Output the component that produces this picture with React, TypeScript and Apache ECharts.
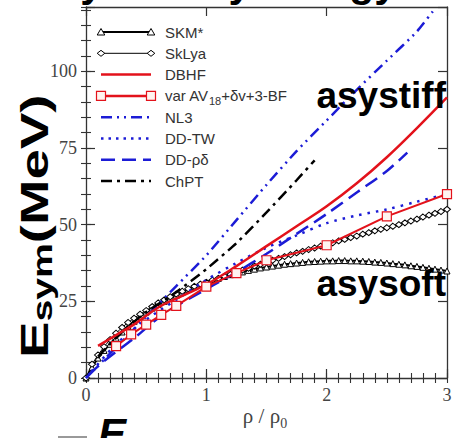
import React, { useEffect, useRef } from 'react';
import * as echarts from 'echarts';

// ---------- data ----------
const RHO_DENSE = [0, 0.05, 0.1, 0.15, 0.2, 0.25, 0.3, 0.35, 0.4, 0.45, 0.5, 0.55, 0.6, 0.65, 0.7, 0.75, 0.8, 0.85, 0.9, 0.95, 1, 1.05, 1.1, 1.15, 1.2, 1.25, 1.3, 1.35, 1.4, 1.45, 1.5, 1.55, 1.6, 1.65, 1.7, 1.75, 1.8, 1.85, 1.9, 1.95, 2, 2.05, 2.1, 2.15, 2.2, 2.25, 2.3, 2.35, 2.4, 2.45, 2.5, 2.55, 2.6, 2.65, 2.7, 2.75, 2.8, 2.85, 2.9, 2.95, 3];
const SKM = [0, 3.5, 6.5, 9, 11, 13, 15, 16.8, 18.5, 20, 21.5, 22.8, 24, 25, 26, 27, 28, 28.9, 29.8, 30.6, 31.3, 31.9, 32.5, 33.1, 33.7, 34.2, 34.6, 35.1, 35.5, 35.9, 36.2, 36.5, 36.8, 37.1, 37.3, 37.5, 37.7, 37.9, 38, 38.1, 38.2, 38.2, 38.3, 38.3, 38.2, 38.2, 38.1, 38, 37.8, 37.7, 37.5, 37.3, 37.1, 36.9, 36.6, 36.4, 36.1, 35.8, 35.5, 35.2, 34.9];
const SKLYA = [0, 4.5, 7.5, 10.2, 12.5, 14.6, 16.5, 18.1, 19.5, 20.8, 22, 23.3, 24.5, 25.5, 26.5, 27.4, 28.3, 29.1, 29.9, 30.6, 31.2, 31.9, 32.5, 33.2, 33.8, 34.5, 35.2, 35.8, 36.5, 37.1, 37.8, 38.4, 39, 39.6, 40.2, 40.8, 41.3, 41.9, 42.4, 43, 43.5, 44.1, 44.7, 45.2, 45.8, 46.3, 46.9, 47.4, 48, 48.5, 49, 49.5, 50, 50.6, 51.2, 51.8, 52.5, 53.1, 53.7, 54.3, 55];

const DBHF_RHO = [0.1, 0.25, 0.4, 0.6, 0.8, 1, 1.25, 1.5, 1.75, 2, 2.25, 2.5, 2.75, 3];
const DBHF = [10.5, 14, 17.5, 23, 26.8, 30.5, 36.5, 43, 49.5, 56, 63.5, 72, 81.5, 91.5];

const AV18_RHO = [0.25, 0.375, 0.5, 0.625, 0.75, 1, 1.25, 1.5, 2, 2.5, 3];
const AV18 = [10.4, 14.2, 17.4, 20.6, 23.5, 29.8, 34.2, 38.4, 43.3, 52.7, 60];

const NL3_RHO = [0, 0.1, 0.25, 0.5, 0.75, 1, 1.25, 1.5, 1.75, 2, 2.25, 2.5, 2.75, 2.9];
const NL3 = [0, 4, 10, 20, 30, 40, 51.5, 63, 74, 84, 94, 103.5, 113, 120.5];

const DDTW_RHO = [0, 0.25, 0.5, 0.75, 1, 1.25, 1.5, 1.75, 2, 2.25, 2.5, 2.75, 3];
const DDTW = [0, 11, 19, 25.5, 32, 37.5, 42.5, 46.5, 50.5, 53, 55, 57.5, 60];

const DDRD_RHO = [0.02, 0.15, 0.4, 0.65, 1, 1.25, 1.5, 1.75, 2, 2.25, 2.5, 2.67];
const DDRD = [1, 5.5, 13, 21, 29, 34.5, 40.5, 47, 53.5, 60.5, 67.5, 73.5];

const CHPT_RHO = [0.1, 0.3, 0.5, 0.75, 1, 1.25, 1.5, 1.75, 1.9];
const CHPT = [7, 15, 21.5, 28, 35.5, 44, 54, 64.5, 71];

const LEGEND_LABELS = ['SKM*', 'SkLya', 'DBHF', '{n|var AV}{s|18}{n|+δv+3-BF}', 'NL3', 'DD-TW', 'DD-ρδ', 'ChPT'];
const X_TICK_LABELS = ['0', '1', '2', '3'];
const Y_TICK_LABELS = ['0', '25', '50', '75', '100'];

const RED = '#e3121b';
const BLUE = '#1c1cd6';
const SANS = 'Liberation Sans, Arial, sans-serif';
const SERIF = 'Liberation Serif, Times New Roman, serif';

const pairs = (xs: number[], ys: number[]) => xs.map((x, i) => [x, ys[i]]);

function legendGraphics() {
  const els: any[] = [];
  const x1 = 101, x2 = 151;
  LEGEND_LABELS.forEach((label, i) => {
    const y = 32 + 21.3 * i;
    let stroke = '#000', lw = 2, dash: any = null;
    if (i === 1) lw = 1;
    if (i === 2 || i === 3) { stroke = RED; lw = 2.5; }
    if (i === 4) { stroke = BLUE; lw = 2.5; dash = [11, 5, 2, 5, 2, 5]; }
    if (i === 5) { stroke = BLUE; lw = 2.5; dash = [2.5, 5]; }
    if (i === 6) { stroke = BLUE; lw = 2.5; dash = [14, 7]; }
    if (i === 7) { stroke = '#000'; lw = 2.5; dash = [11, 5, 3, 5]; }
    els.push({ type: 'line', z: 50, shape: { x1, y1: y, x2, y2: y }, style: { stroke, lineWidth: lw, lineDash: dash } });
    [x1, x2].forEach((cx) => {
      if (i === 0) els.push({ type: 'polygon', z: 51, shape: { points: [[cx, y - 3.5], [cx - 3.8, y + 3], [cx + 3.8, y + 3]] }, style: { fill: '#fff', stroke: '#000', lineWidth: 1 } });
      if (i === 1) els.push({ type: 'polygon', z: 51, shape: { points: [[cx, y - 3], [cx + 3.8, y], [cx, y + 3], [cx - 3.8, y]] }, style: { fill: '#fff', stroke: '#000', lineWidth: 1 } });
      if (i === 3) els.push({ type: 'rect', z: 51, shape: { x: cx - 4.5, y: y - 4.5, width: 9, height: 9 }, style: { fill: '#fff4f0', stroke: RED, lineWidth: 1.2 } });
    });
    els.push({
      type: 'text', z: 52, x: 165, y,
      style: {
        text: label, fill: '#333', font: `15px ${SANS}`, align: 'left', verticalAlign: 'middle',
        rich: {
          n: { fontSize: 15, fontFamily: SANS, fill: '#333', lineHeight: 22 },
          s: { fontSize: 11, fontFamily: SANS, fill: '#333', lineHeight: 12, verticalAlign: 'bottom' },
        },
      },
    });
  });
  return els;
}

export default function App() {
  const ref = useRef<HTMLDivElement>(null);
  useEffect(() => {
    if (!ref.current) return;
    const chart = echarts.init(ref.current, undefined, { renderer: 'svg' });
    const axisColor = '#333';
    const xBase = { type: 'value', min: 0, max: 3, splitLine: { show: false } };
    const yBase = { type: 'value', min: 0, max: 121, splitLine: { show: false } };
    const majorX = (pos: string, labels: boolean) => ({
      ...xBase, position: pos, interval: 1,
      axisLine: { show: true, onZero: false, lineStyle: { color: axisColor, width: 1.3 } },
      axisTick: { show: true, inside: true, length: 9, lineStyle: { color: axisColor, width: 1.2 } },
      axisLabel: labels ? { show: true, margin: 8, color: '#444', fontFamily: SERIF, fontSize: 18, formatter: (v: number) => X_TICK_LABELS[Math.round(v)] ?? '' } : { show: false },
    });
    const minorX = (pos: string) => ({
      ...xBase, position: pos, interval: 0.1,
      axisLine: { show: false },
      axisTick: { show: true, inside: true, length: 5, lineStyle: { color: axisColor, width: 1.1 } },
      axisLabel: { show: false },
    });
    const majorY = (pos: string, labels: boolean) => ({
      ...yBase, position: pos, interval: 25,
      axisLine: { show: true, onZero: false, lineStyle: { color: axisColor, width: 1.3 } },
      axisTick: { show: true, inside: true, length: 9, lineStyle: { color: axisColor, width: 1.2 } },
      axisLabel: labels ? { show: true, margin: 9, color: '#444', fontFamily: SERIF, fontSize: 18, formatter: (v: number) => Y_TICK_LABELS[Math.round(v / 25)] ?? '' } : { show: false },
    });
    const minorY = (pos: string) => ({
      ...yBase, position: pos, interval: 5,
      axisLine: { show: false },
      axisTick: { show: true, inside: true, length: 5, lineStyle: { color: axisColor, width: 1.1 } },
      axisLabel: { show: false },
    });

    const option: any = {
      animation: false,
      backgroundColor: '#fff',
      grid: { left: 86, top: 7, width: 361, height: 371, containLabel: false },
      xAxis: [majorX('bottom', true), minorX('bottom'), majorX('top', false), minorX('top')],
      yAxis: [majorY('left', true), minorY('left'), majorY('right', false), minorY('right')],
      series: [
        {
          name: 'SKM*', type: 'line', data: pairs(RHO_DENSE, SKM), z: 3,
          lineStyle: { color: '#000', width: 2 }, symbol: 'triangle', symbolSize: 6, showAllSymbol: true,
          itemStyle: { color: '#fff', borderColor: '#000', borderWidth: 1 },
        },
        {
          name: 'SkLya', type: 'line', data: pairs(RHO_DENSE, SKLYA), z: 3,
          lineStyle: { color: '#000', width: 1 }, symbol: 'diamond', symbolSize: [7, 6], showAllSymbol: true,
          itemStyle: { color: '#fff', borderColor: '#000', borderWidth: 1 },
        },
        {
          name: 'NL3', type: 'line', data: pairs(NL3_RHO, NL3), smooth: 0.2, symbol: 'none', z: 4,
          lineStyle: { color: BLUE, width: 2.5, type: [11, 5, 2, 5, 2, 5] },
        },
        {
          name: 'DD-TW', type: 'line', data: pairs(DDTW_RHO, DDTW), smooth: 0.3, symbol: 'none', z: 4,
          lineStyle: { color: BLUE, width: 2.5, type: [2.5, 6] },
        },
        {
          name: 'DD-ρδ', type: 'line', data: pairs(DDRD_RHO, DDRD), smooth: 0.3, symbol: 'none', z: 4,
          lineStyle: { color: BLUE, width: 2.5, type: [14, 7] },
        },
        {
          name: 'ChPT', type: 'line', data: pairs(CHPT_RHO, CHPT), smooth: 0.2, symbol: 'none', z: 4,
          lineStyle: { color: '#000', width: 2.5, type: [11, 5, 3, 5] },
        },
        {
          name: 'DBHF', type: 'line', data: pairs(DBHF_RHO, DBHF), smooth: 0.4, symbol: 'none', z: 5,
          lineStyle: { color: RED, width: 2.5 },
        },
        {
          name: 'var AV18+δv+3-BF', type: 'line', data: pairs(AV18_RHO, AV18), symbol: 'rect', symbolSize: 9, showAllSymbol: true, z: 6,
          lineStyle: { color: RED, width: 2 },
          itemStyle: { color: '#fff4f0', borderColor: RED, borderWidth: 1.2 },
        },
      ],
      graphic: [
        ...legendGraphics(),
        { type: 'text', z: 60, x: 446, y: 95.2, style: { text: 'asystiff', font: `bold 37px ${SANS}`, fill: '#000', align: 'right', verticalAlign: 'middle' } },
        { type: 'text', z: 60, x: 446, y: 283.9, style: { text: 'asysoft', font: `bold 37px ${SANS}`, fill: '#000', align: 'right', verticalAlign: 'middle' } },
        {
          type: 'text', z: 60, x: 34.5, y: 358, rotation: Math.PI / 2, scaleX: 1.4,
          style: {
            text: '{a|E}{b|sym}{a|(MeV)}', align: 'left', verticalAlign: 'middle',
            rich: {
              a: { fontSize: 39, fontWeight: 'bold', fontFamily: SANS, fill: '#000', lineHeight: 44 },
              b: { fontSize: 28, fontWeight: 'bold', fontFamily: SANS, fill: '#000', lineHeight: 24, verticalAlign: 'bottom' },
            },
          },
        },
        {
          type: 'text', z: 60, x: 265, y: 416,
          style: {
            text: '{a|ρ / ρ}{b|0}', align: 'center', verticalAlign: 'middle',
            rich: {
              a: { fontSize: 21, fontFamily: SERIF, fill: '#444', lineHeight: 28 },
              b: { fontSize: 14, fontFamily: SERIF, fill: '#444', lineHeight: 14, verticalAlign: 'bottom' },
            },
          },
        },
        { type: 'text', z: 60, x: 53, y: -17.2, style: { text: 'Symmetry energy', font: `bold 41px ${SANS}`, fill: '#000', align: 'left', verticalAlign: 'middle' } },
        { type: 'text', z: 60, x: 98, y: 433, style: { text: 'E', font: `italic bold 42px ${SANS}`, fill: '#000', align: 'left', verticalAlign: 'middle' } },
        { type: 'rect', z: 60, shape: { x: 58, y: 436, width: 29, height: 3 }, style: { fill: '#999' } },
      ],
    };
    chart.setOption(option);
    return () => chart.dispose();
  }, []);
  return <div ref={ref} style={{ position: 'fixed', left: 0, top: 0, width: 461, height: 438, background: '#fff' }} />;
}
